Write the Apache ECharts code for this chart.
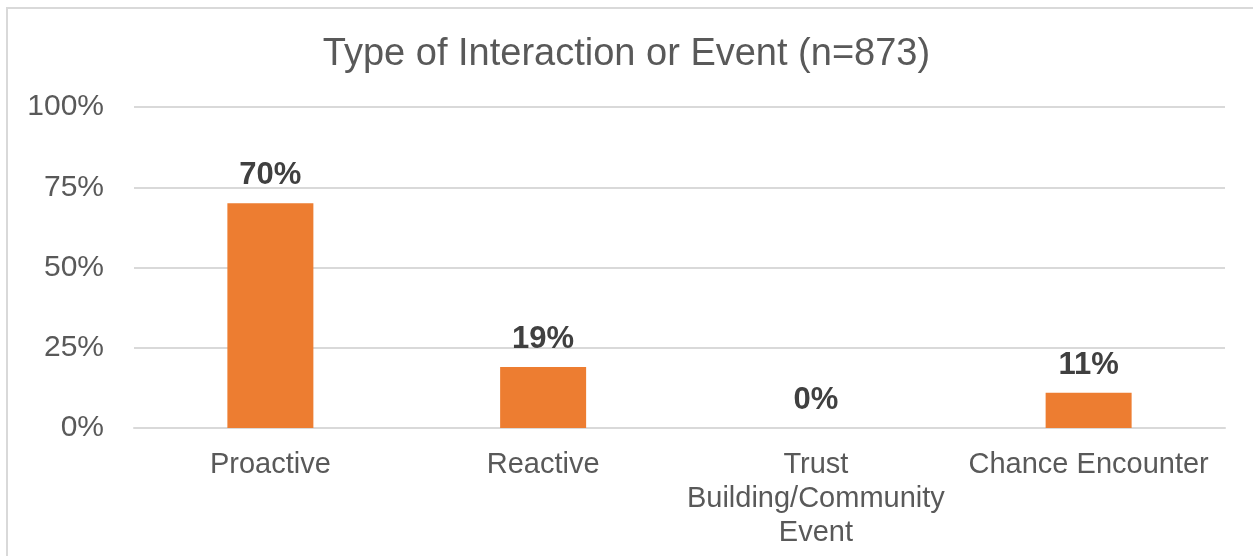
<!DOCTYPE html>
<html>
<head>
<meta charset="utf-8">
<script src="https://cdn.jsdelivr.net/npm/echarts@6/dist/echarts.min.js"></script>
<style>
  html, body { margin: 0; padding: 0; background: #ffffff; }
  #chart { width: 1253px; height: 556px; }
</style>
</head>
<body>
<div id="chart"></div>
<script>
// Share of interactions by type (n=873), in percent
const categories = ['Proactive', 'Reactive', 'Trust\nBuilding/Community\nEvent', 'Chance Encounter'];
const shares = [70, 19, 0, 11];
const yTicks = { min: 0, max: 100, interval: 25 };

const textColor = '#595959';
const gridColor = '#d9d9d9';
const fontFamily = '"Liberation Sans", Arial, sans-serif';

const chart = echarts.init(document.getElementById('chart'), null, { renderer: 'canvas' });

chart.setOption({
  backgroundColor: '#ffffff',
  animation: false,
  graphic: [{
    type: 'rect',
    shape: { x: 7, y: 8, width: 1400, height: 700 },
    style: { fill: 'none', stroke: gridColor, lineWidth: 2 },
    silent: true,
    z: -1
  }],
  title: {
    text: 'Type of Interaction or Event (n=873)',
    left: 'center',
    top: 31,
    textStyle: { fontFamily, fontSize: 38, fontWeight: 'normal', color: textColor }
  },
  grid: { left: 134, right: 28, top: 107, bottom: 128, containLabel: false },
  xAxis: {
    type: 'category',
    data: categories,
    axisLine: { show: true, lineStyle: { color: gridColor, width: 2 } },
    axisTick: { show: false },
    axisLabel: {
      fontFamily, fontSize: 29, color: textColor, margin: 20,
      lineHeight: 34, interval: 0
    }
  },
  yAxis: {
    type: 'value',
    min: yTicks.min,
    max: yTicks.max,
    interval: yTicks.interval,
    axisLine: { show: false },
    axisTick: { show: false },
    splitLine: { lineStyle: { color: gridColor, width: 2 } },
    axisLabel: {
      fontFamily, fontSize: 30, color: textColor, margin: 30,
      padding: [4, 0, 0, 0],
      formatter: v => v + '%'
    }
  },
  series: [{
    type: 'bar',
    data: shares,
    barWidth: 86,
    itemStyle: { color: '#ed7d31' },
    label: {
      show: true,
      position: 'top',
      distance: 12,
      fontFamily, fontSize: 31, fontWeight: 'bold', color: '#404040',
      formatter: p => p.value + '%'
    }
  }]
});
</script>
</body>
</html>
